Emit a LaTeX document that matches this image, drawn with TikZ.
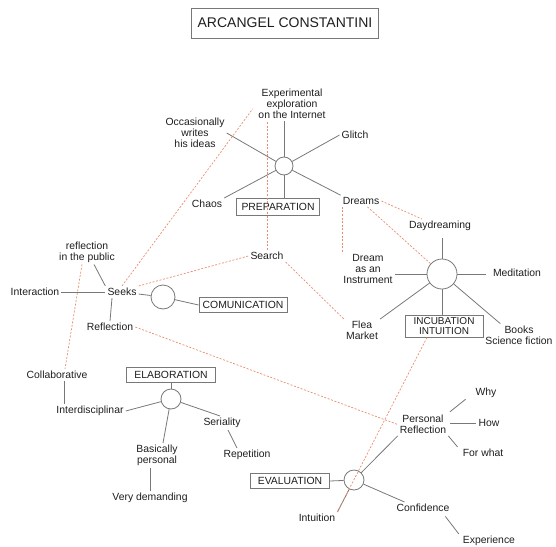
\documentclass[tikz,border=0pt]{standalone}
\usepackage{fontspec}
\setmainfont{Liberation Sans}
\usetikzlibrary{calc}
\definecolor{lin}{RGB}{120,120,120}
\definecolor{dsh}{RGB}{232,140,110}
\definecolor{txt}{RGB}{30,30,30}
\begin{document}
\begin{tikzpicture}[x=1pt,y=-1pt,
  every node/.style={font=\fontsize{10.4}{10.8}\selectfont, text=txt, inner sep=2pt, align=center},
  hub/.style={circle, draw=lin, line width=0.8pt, fill=white},
  phase/.style={draw=lin, line width=0.8pt, inner sep=2pt},
  spoke/.style={draw=lin, line width=0.8pt},
  link/.style={draw=dsh, line width=0.7pt, dash pattern=on 2pt off 1.6pt}]
\useasboundingbox (0,0) rectangle (556,546);
% title
\node[phase, minimum width=187pt, minimum height=30pt, font=\fontsize{14}{15}\selectfont] (title) at (285,23) {ARCANGEL CONSTANTINI};
% preparation
\node[hub, minimum size=18pt, inner sep=0pt] (c1) at (284,166) {};
\node (exp) at (292,104) {Experimental\\exploration\\on the Internet};
\node (occ) at (195,133) {Occasionally\\writes\\his ideas};
\node (glitch) at (355,135) {Glitch};
\node (chaos) at (207,204) {Chaos};
\node[phase, minimum width=83pt, minimum height=17pt] (prepbox) at (278,207) {PREPARATION};
\node (dreams) at (361,201) {Dreams};
\node (search) at (267,256) {Search};
% incubation
\node[hub, minimum size=30pt, inner sep=0pt] (c2) at (442,274) {};
\node (daydream) at (440,226) {Daydreaming};
\node (instr) at (368,269) {Dream\\as an\\Instrument};
\node (medit) at (517,273) {Meditation};
\node (flea) at (362,330.5) {Flea\\Market};
\node[phase, minimum width=78pt, minimum height=22pt, inner sep=1pt, font=\fontsize{10}{10}\selectfont] (incubbox) at (444,326) {INCUBATION\\INTUITION};
\node (books) at (519,335) {Books\\Science fiction};
% communication
\node (seeks) at (122,292) {Seeks};
\node (reflpub) at (87,252) {reflection\\in the public};
\node (interaction) at (35,292) {Interaction};
\node (reflection) at (110,327) {Reflection};
\node[hub, minimum size=24pt, inner sep=0pt] (c3) at (163,297) {};
\node[phase, minimum width=88pt, minimum height=15pt] (commbox) at (243,305) {COMUNICATION};
% elaboration
\node (collab) at (57,375) {Collaborative};
\node[phase, minimum width=89pt, minimum height=15pt] (elabbox) at (171,375) {ELABORATION};
\node[hub, minimum size=20pt, inner sep=0pt] (c4) at (171,399) {};
\node (interd) at (90,411) {Interdisciplinar};
\node (seriality) at (222,423) {Seriality};
\node (basically) at (157,455.5) {Basically\\personal};
\node (repetition) at (247,455) {Repetition};
\node (verydem) at (150,498) {Very demanding};
% evaluation
\node (why) at (486,393) {Why};
\node (persrefl) at (423,424.5) {Personal\\Reflection};
\node (how) at (489,423) {How};
\node (forwhat) at (483,453) {For what};
\node[phase, minimum width=79pt, minimum height=15pt] (evalbox) at (290,481) {EVALUATION};
\node[hub, minimum size=20pt, inner sep=0pt] (c5) at (354,480) {};
\node (intuition) at (317,518) {Intuition};
\node (confidence) at (423,508) {Confidence};
\node (experience) at (489,541) {Experience};

% solid spokes
\path[spoke] (c1) -- (c1 |- exp.south);
\path[spoke] (c1) -- (occ.east);
\path[spoke] (c1) -- (glitch.west);
\path[spoke] (c1) -- (chaos.north east);
\path[spoke] (c1) -- (c1 |- prepbox.north);
\path[spoke] (c1) -- (dreams.north west);

\path[spoke, shorten >=5pt] (c2) -- (c2 |- daydream.south);
\path[spoke] (c2) -- (c2 -| instr.east);
\path[spoke, shorten >=5pt] (c2) -- (c2 -| medit.west);
\path[spoke] (c2) -- (flea.north east);
\path[spoke] (c2) -- (c2 |- incubbox.north);
\path[spoke] (c2) -- ([xshift=17pt]books.north west);

\path[spoke] (interaction) -- (seeks);
\path[spoke] (seeks.north west) -- ([xshift=7pt]reflpub.south);
\path[spoke] ([xshift=-10pt]seeks.south) -- (reflection.north);
\path[spoke] (seeks) -- (c3);
\path[spoke] (c3) -- (commbox.west);

\path[spoke] (elabbox.south) -- (c4);
\path[spoke] (c4) -- (interd.east);
\path[spoke] (c4) -- ([xshift=6pt]basically.north);
\path[spoke] (c4) -- ([xshift=-2pt]seriality.north);
\path[spoke] ([xshift=6pt]seriality.south) -- ([xshift=-10pt]repetition.north);
\path[spoke] ([xshift=7pt]collab.south) -- ([xshift=7pt]collab.south |- interd.north);
\path[spoke] (verydem.north) -- (verydem.north |- basically.south);

\path[spoke, shorten <=2pt, shorten >=10pt] (persrefl.north east) -- (why.west);
\path[spoke, shorten <=2pt] (persrefl.east |- how) -- (how.west);
\path[spoke] (persrefl.south east) -- ([xshift=-3pt]forwhat.north west);
\path[spoke] (c5) -- (persrefl.south west);
\path[spoke] (c5) -- (evalbox.east);
\path[spoke] (c5) -- (intuition.north east);
\path[spoke] (c5) -- ([xshift=10pt]confidence.north west);
\path[spoke, shorten <=3pt] ([xshift=-8pt]confidence.south east) -- ([xshift=-2pt]experience.north west);

% dashed relations
\path[link, shorten >=6pt] (seeks.north) -- (exp.west);
\path[link] (search.north) -- (search.north |- exp.south);
\path[link] (seeks.north east) -- (search.west);
\path[link] (search.south east) -- (flea.north west);
\path[link] (dreams.east) -- ([xshift=15pt]daydream.north west);
\path[link] ([xshift=2pt]dreams.south west) -- ([xshift=2pt]dreams.south west |- instr.north);
\path[link] (dreams) -- (c2);
\path[link] (reflection.east) -- (persrefl.west);
\path[link] ([xshift=-5pt]reflpub.south) -- ([xshift=8pt]collab.north);
\path[link] ([xshift=-17pt]incubbox.south) -- (intuition.north east);
\end{tikzpicture}
\end{document}
